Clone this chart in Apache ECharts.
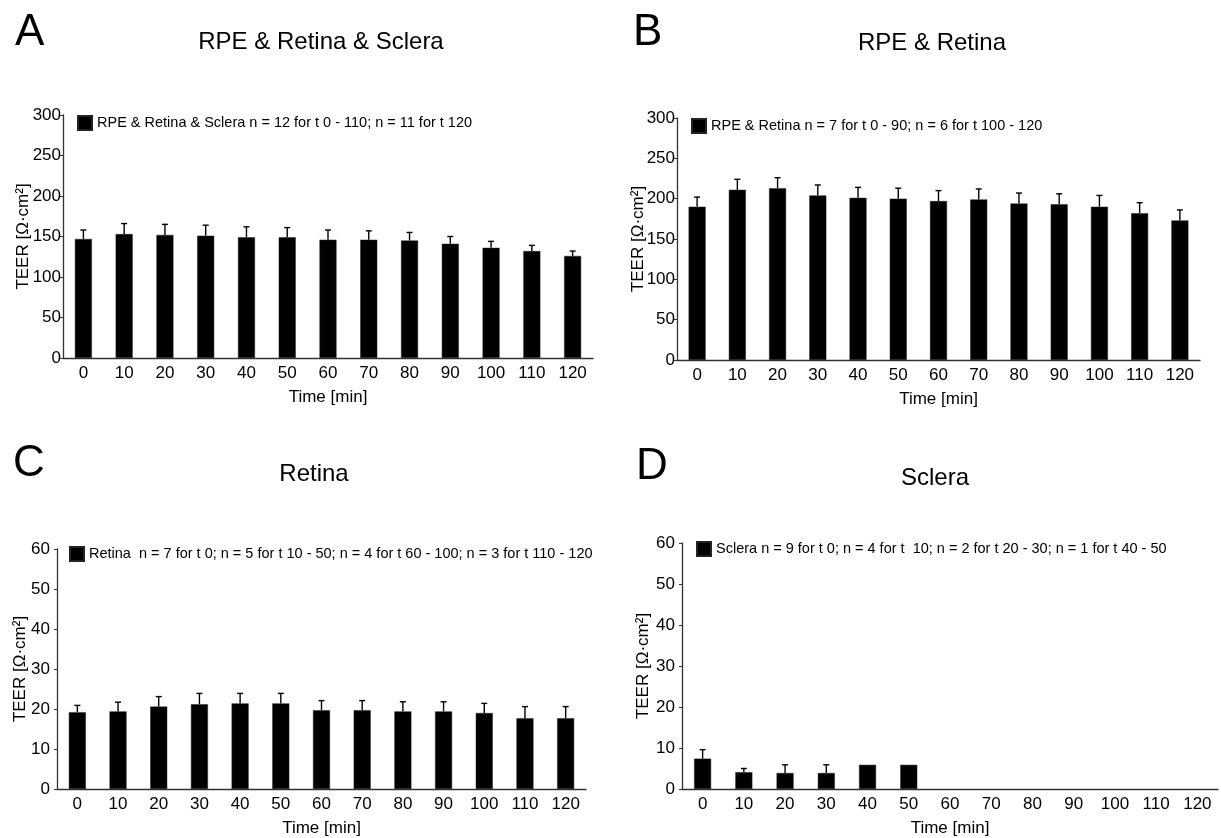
<!DOCTYPE html>
<html>
<head>
<meta charset="utf-8">
<title>TEER over time</title>
<script src="https://cdn.jsdelivr.net/npm/echarts@6/dist/echarts.min.js"></script>
<style>
  html, body { margin: 0; padding: 0; background: #fff; }
  #chart { width: 1221px; height: 838px; }
</style>
</head>
<body>
<div id="chart"></div>
<script>
// Time points (min)
const times = ['0', '10', '20', '30', '40', '50', '60', '70', '80', '90', '100', '110', '120'];

// Panel A: RPE & Retina & Sclera, mean and SEM
const meanA = [147, 153, 152, 151, 149, 149, 146, 146, 145, 141, 136, 132, 126];
const semA  = [11, 13, 13, 13, 13, 12, 12, 11, 10, 9, 8, 7, 6];

// Panel B: RPE & Retina
const meanB = [190, 211, 213, 204, 201, 200, 197, 199, 194, 193, 190, 182, 173];
const semB  = [12, 13, 13, 13, 13, 13, 13, 13, 13, 13, 14, 13, 13];

// Panel C: Retina
const meanC = [19.2, 19.4, 20.6, 21.2, 21.4, 21.4, 19.7, 19.7, 19.4, 19.4, 19.0, 17.7, 17.7];
const semC  = [1.7, 2.3, 2.5, 2.7, 2.5, 2.5, 2.4, 2.4, 2.4, 2.4, 2.4, 2.9, 2.9];

// Panel D: Sclera (no data after 50 min, n = 1 at 40-50 min so no error bar)
const meanD = [7.4, 4.1, 3.9, 3.9, 5.9, 5.9, null, null, null, null, null, null, null];
const semD  = [2.2, 0.9, 2.0, 2.0, null, null, null, null, null, null, null, null, null];

const letters = ['A', 'B', 'C', 'D'];
const titles = ['RPE & Retina & Sclera', 'RPE & Retina', 'Retina', 'Sclera'];
const legendNames = [
  'RPE & Retina & Sclera n = 12 for t 0 - 110; n = 11 for t 120',
  'RPE & Retina n = 7 for t 0 - 90; n = 6 for t 100 - 120',
  'Retina  n = 7 for t 0; n = 5 for t 10 - 50; n = 4 for t 60 - 100; n = 3 for t 110 - 120',
  'Sclera n = 9 for t 0; n = 4 for t  10; n = 2 for t 20 - 30; n = 1 for t 40 - 50'
];
const yMax = [300, 300, 60, 60];
const yStep = [50, 50, 10, 10];

const means = [meanA, meanB, meanC, meanD];
const sems = [semA, semB, semC, semD];

const FONT = '"Liberation Sans", Arial, Helvetica, sans-serif';

// Plot-area layout of each panel
const grids = [
  { left: 63,  top: 115, width: 530, height: 243 },
  { left: 677, top: 118, width: 523, height: 242 },
  { left: 57,  top: 549, width: 529, height: 242 },
  { left: 682, top: 543, width: 536, height: 246 }
];
const legendPos = [
  { left: 77,  top: 115 },
  { left: 691, top: 118 },
  { left: 69,  top: 546 },
  { left: 696, top: 541 }
];
const letterPos = [[15, 33], [633, 33], [13, 464], [636, 467]];
const titlePos = [[321, 42], [932, 43], [314, 474], [935, 478]];
const yLabelMargin = [2, 2, 7, 7];
const yNameGap = [31, 30, 28, 30];

const axisLine = { show: true, lineStyle: { color: '#333', width: 1.3 } };

const option = {
  animation: false,
  backgroundColor: '#fff',
  textStyle: { fontFamily: FONT },
  grid: grids.map(g => Object.assign({ containLabel: false }, g)),
  legend: legendPos.map((p, i) => ({
    left: p.left, top: p.top, padding: 0, orient: 'horizontal',
    data: [legendNames[i]], icon: 'rect', itemWidth: 14, itemHeight: 14,
    selectedMode: false,
    textStyle: { fontFamily: FONT, fontSize: 14.5, color: '#000' }
  })),
  xAxis: grids.map((g, i) => ({
    type: 'category', gridIndex: i, data: times,
    axisLine: axisLine, axisTick: { show: false },
    axisLabel: { interval: 0, fontSize: 17, color: '#000', fontFamily: FONT, margin: 7 },
    name: 'Time [min]', nameLocation: 'middle', nameGap: 31, nameMoveOverlap: false,
    nameTextStyle: { fontSize: 17, color: '#000', fontFamily: FONT }
  })),
  yAxis: grids.map((g, i) => ({
    type: 'value', gridIndex: i, min: 0, max: yMax[i], interval: yStep[i],
    splitLine: { show: false },
    axisLine: axisLine,
    axisTick: { show: true, length: 3, lineStyle: { color: '#333' } },
    axisLabel: { fontSize: 17, color: '#000', fontFamily: FONT, margin: yLabelMargin[i] },
    name: 'TEER [Ω·cm²]', nameLocation: 'middle', nameGap: yNameGap[i], nameMoveOverlap: false,
    nameTextStyle: { fontSize: 17, color: '#000', fontFamily: FONT }
  })),
  graphic: [],
  series: []
};

letters.forEach((l, i) => {
  option.graphic.push({
    type: 'text', x: letterPos[i][0], y: letterPos[i][1],
    style: { text: l, font: '44px ' + FONT, fill: '#000', textVerticalAlign: 'middle' }
  });
  option.graphic.push({
    type: 'text', x: titlePos[i][0], y: titlePos[i][1],
    style: { text: titles[i], font: '24px ' + FONT, fill: '#000', textAlign: 'center', textVerticalAlign: 'middle' }
  });
});

for (let i = 0; i < 4; i++) {
  option.series.push({
    name: legendNames[i], type: 'bar', xAxisIndex: i, yAxisIndex: i,
    data: means[i], barWidth: 17,
    itemStyle: { color: '#000', borderColor: '#222', borderWidth: 0.5 }
  });
  // Upper error bars (mean + SEM) with a short cap
  const errData = means[i].map((m, k) => [k, m, sems[i][k]]);
  option.series.push({
    name: 'err' + i, type: 'custom', xAxisIndex: i, yAxisIndex: i,
    data: errData, z: 1,
    encode: { x: 0, y: 1 },
    renderItem: function (params, api) {
      const m = api.value(1), s = api.value(2);
      if (m == null || isNaN(m) || s == null || isNaN(s) || s <= 0) return null;
      const base = api.coord([api.value(0), m]);
      const top = api.coord([api.value(0), m + s]);
      const st = { stroke: '#000', lineWidth: 1.4 };
      return {
        type: 'group',
        children: [
          { type: 'line', shape: { x1: base[0], y1: base[1], x2: top[0], y2: top[1] }, style: st },
          { type: 'line', shape: { x1: top[0] - 3, y1: top[1], x2: top[0] + 3, y2: top[1] }, style: st }
        ]
      };
    }
  });
}

const chart = echarts.init(document.getElementById('chart'), null, { renderer: 'canvas' });
chart.setOption(option);
</script>
</body>
</html>
